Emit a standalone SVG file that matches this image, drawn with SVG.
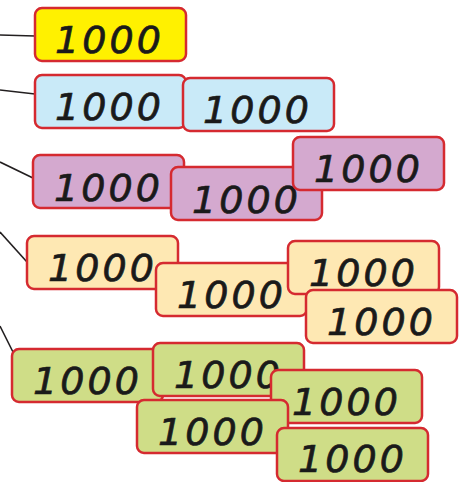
<svg xmlns="http://www.w3.org/2000/svg" width="461" height="482" viewBox="0 0 461 482">
<style>
.box{stroke:#d52a30;stroke-width:2.5;}
.y{fill:#fff100}.b{fill:#c9eaf8}.p{fill:#d4a9cf}.o{fill:#fee8b3}.g{fill:#cfdd87}
.lbl{font-family:"DejaVu Sans","Liberation Sans",sans-serif;font-style:italic;font-size:38px;fill:#1a1a1a;stroke:#1a1a1a;stroke-width:0.7;}
.con{stroke:#231f20;stroke-width:1.6;fill:none}
</style>
<g id="connectors">
<line class="con" x1="0" y1="35" x2="35" y2="36"/>
<line class="con" x1="0" y1="90" x2="35" y2="94"/>
<line class="con" x1="0" y1="162" x2="33" y2="178"/>
<line class="con" x1="0" y1="232" x2="27" y2="262"/>
<line class="con" x1="0" y1="326" x2="13" y2="352"/>
</g>
<g id="y1"><rect class="box y" x="35" y="8" width="151" height="53" rx="7"/><text class="lbl" x="55" y="53" textLength="106" lengthAdjust="spacing">1000</text></g>
<g id="b1"><rect class="box b" x="35" y="75" width="151" height="53" rx="7"/><text class="lbl" x="55" y="120" textLength="106" lengthAdjust="spacing">1000</text></g>
<g id="b2"><rect class="box b" x="183" y="78" width="151" height="53" rx="7"/><text class="lbl" x="203" y="123" textLength="106" lengthAdjust="spacing">1000</text></g>
<g id="p1"><rect class="box p" x="33" y="155" width="151" height="53" rx="7"/><text class="lbl" x="54" y="201" textLength="106" lengthAdjust="spacing">1000</text></g>
<g id="p2"><rect class="box p" x="171" y="167" width="151" height="53" rx="7"/><text class="lbl" x="192" y="213" textLength="106" lengthAdjust="spacing">1000</text></g>
<g id="p3"><rect class="box p" x="293" y="137" width="151" height="53" rx="7"/><text class="lbl" x="314" y="182" textLength="106" lengthAdjust="spacing">1000</text></g>
<g id="o1"><rect class="box o" x="27" y="236" width="151" height="53" rx="7"/><text class="lbl" x="48" y="281" textLength="106" lengthAdjust="spacing">1000</text></g>
<g id="o2"><rect class="box o" x="156" y="263" width="151" height="53" rx="7"/><text class="lbl" x="177" y="308" textLength="106" lengthAdjust="spacing">1000</text></g>
<g id="o3"><rect class="box o" x="288" y="241" width="151" height="53" rx="7"/><text class="lbl" x="309" y="286" textLength="106" lengthAdjust="spacing">1000</text></g>
<g id="o4"><rect class="box o" x="306" y="290" width="151" height="53" rx="7"/><text class="lbl" x="327" y="335" textLength="106" lengthAdjust="spacing">1000</text></g>
<g id="g1"><rect class="box g" x="12" y="349" width="151" height="53" rx="7"/><text class="lbl" x="33" y="394" textLength="106" lengthAdjust="spacing">1000</text></g>
<g id="g2"><rect class="box g" x="153" y="343" width="151" height="53" rx="7"/><text class="lbl" x="174" y="388" textLength="106" lengthAdjust="spacing">1000</text></g>
<g id="g3"><rect class="box g" x="271" y="370" width="151" height="53" rx="7"/><text class="lbl" x="292" y="415" textLength="106" lengthAdjust="spacing">1000</text></g>
<g id="g4"><rect class="box g" x="137" y="400" width="151" height="53" rx="7"/><text class="lbl" x="158" y="445" textLength="106" lengthAdjust="spacing">1000</text></g>
<g id="g5"><rect class="box g" x="277" y="428" width="151" height="53" rx="7"/><text class="lbl" x="298" y="472" textLength="106" lengthAdjust="spacing">1000</text></g>
</svg>
